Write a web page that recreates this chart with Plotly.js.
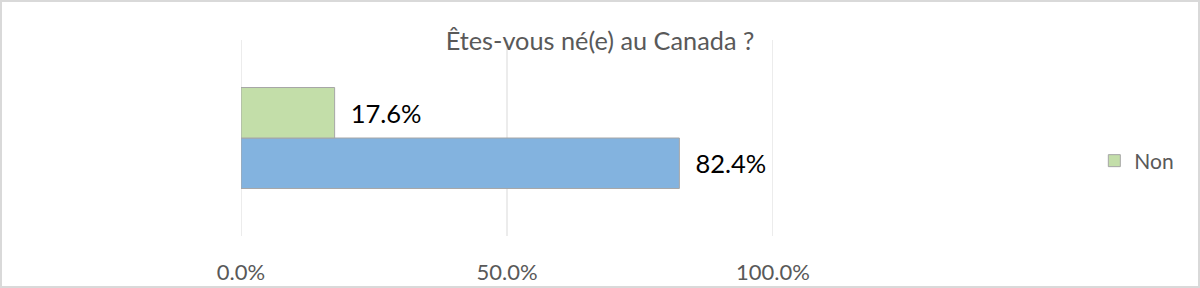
<!DOCTYPE html>
<html>
<head>
<meta charset="utf-8">
<script src="https://cdn.plot.ly/plotly-3.0.1.min.js"></script>
<style>
html,body{margin:0;padding:0;background:#fff;}
#wrap{width:1196px;height:284px;border:2px solid #d9d9d9;position:relative;}
#chart{width:1196px;height:284px;position:absolute;left:-2px;top:-2px;}
</style>
</head>
<body>
<div id="wrap"><div id="chart"></div></div>
<script>
const chartTitle = "Êtes-vous né(e) au Canada ?";
const category = ["Êtes-vous né(e) au Canada ?"];
const seriesNames = ["Oui", "Non"];
const ouiValues = [0.824];
const nonValues = [0.176];
const tickVals = [0, 0.5, 1];

const font = "Lato, 'Open Sans', sans-serif";

const traces = [
  {
    type: "bar", orientation: "h", name: seriesNames[0],
    y: category, x: ouiValues,
    marker: {color: "#83b3df", line: {color: "#a6a6a6", width: 1}},
    text: ouiValues.map(v => "  " + (v*100).toFixed(1) + "%"),
    textposition: "outside", cliponaxis: false,
    textfont: {family: font, size: 25.5, color: "#000000"},
    showlegend: false, hoverinfo: "none"
  },
  {
    type: "bar", orientation: "h", name: seriesNames[1],
    y: category, x: nonValues,
    marker: {color: "#c3dea9", line: {color: "#a6a6a6", width: 1}},
    text: nonValues.map(v => "  " + (v*100).toFixed(1) + "%"),
    textposition: "outside", cliponaxis: false,
    textfont: {family: font, size: 25.5, color: "#000000"},
    showlegend: true, hoverinfo: "none"
  }
];

const gridShapes = tickVals.map(v => ({
  type: "line", xref: "x", yref: "paper", x0: v, x1: v, y0: 0, y1: 1,
  line: {color: "#d9d9d9", width: 1}, layer: "below"
}));

const layout = {
  width: 1200, height: 288,
  margin: {l: 241, r: 427, t: 40, b: 52, pad: 0},
  paper_bgcolor: "rgba(0,0,0,0)", plot_bgcolor: "rgba(0,0,0,0)",
  font: {family: font, color: "#595959"},
  title: {text: chartTitle, x: 0.5, xref: "container", xanchor: "center",
          y: 1 - 41/288, yref: "container", yanchor: "middle",
          font: {family: font, size: 25.3, color: "#595959"}},
  barmode: "group", bargap: 0.485, bargroupgap: 0,
  shapes: gridShapes,
  xaxis: {range: [0, 1], tickvals: tickVals, tickformat: ".1%",
          showgrid: false, zeroline: false, showline: false, ticks: "",
          ticklabelstandoff: 21,
          tickfont: {family: font, size: 22, color: "#595959"}},
  yaxis: {showticklabels: false, showgrid: false, zeroline: false, showline: false, ticks: ""},
  legend: {x: 1.604, xanchor: "left", y: (236-161)/196, yanchor: "middle",
           font: {family: font, size: 21, color: "#595959"},
           bgcolor: "rgba(0,0,0,0)", itemwidth: 30},
  showlegend: true
};

Plotly.newPlot("chart", traces, layout, {staticPlot: true, displayModeBar: false});
</script>
</body>
</html>
